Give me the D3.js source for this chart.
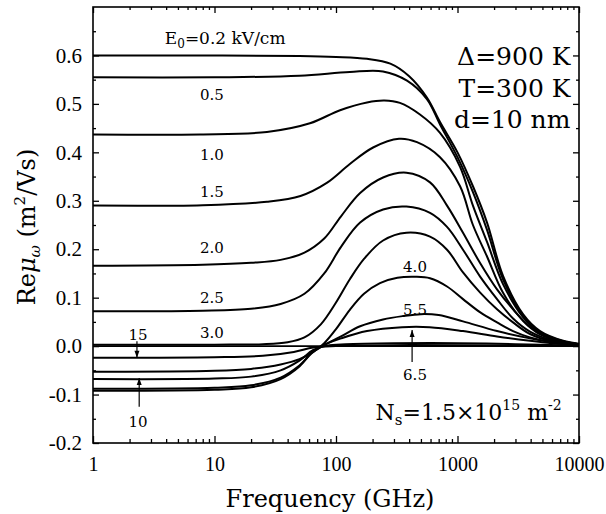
<!DOCTYPE html>
<html>
<head>
<meta charset="utf-8">
<script src="https://cdn.jsdelivr.net/npm/d3@7"></script>
<style>
  body { margin: 0; background: #fff; }
  svg text { font-family: "DejaVu Serif", "Liberation Serif", serif; fill: #000; }
  svg .tick text { font-family: "Liberation Serif", "DejaVu Serif", serif; }
</style>
</head>
<body>
<div id="wrapper"></div>
<script>
// field strengths (kV/cm) and the Re(mu) curves: [frequency GHz, value m^2/Vs]
const fieldLabels = ["0.2", "0.5", "1.0", "1.5", "2.0", "2.5", "3.0", "4.0", "5.5", "6.5", "10", "15"];

const curveE02 = [[1,0.600],[10,0.600],[50,0.599],[100,0.597],[180,0.593],[280,0.583],[400,0.557],[560,0.513],[720,0.462],[1000,0.400],[1340,0.330],[1750,0.255],[2370,0.145],[3460,0.066],[4780,0.031],[7400,0.011],[10000,0.005]];
const curveE05 = [[1,0.555],[10,0.555],[50,0.558],[130,0.566],[244,0.567],[384,0.548],[560,0.510],[720,0.457],[1000,0.390],[1340,0.318],[1750,0.240],[2370,0.138],[3460,0.063],[4780,0.029],[7400,0.010],[10000,0.004]];
const curveE10 = [[1,0.437],[7.6,0.437],[27,0.442],[61,0.460],[108,0.487],[180,0.503],[250,0.507],[336,0.502],[491,0.478],[718,0.440],[1050,0.370],[1340,0.290],[1750,0.215],[2370,0.128],[3460,0.060],[4780,0.027],[7400,0.009],[10000,0.004]];
const curveE15 = [[1,0.290],[8,0.291],[27,0.298],[51,0.310],[84,0.337],[130,0.376],[202,0.410],[330,0.428],[464,0.421],[718,0.390],[1050,0.330],[1340,0.250],[1750,0.185],[2370,0.110],[3460,0.052],[4780,0.024],[7400,0.008],[10000,0.003]];
const curveE20 = [[1,0.166],[8,0.168],[20,0.172],[35,0.178],[55,0.193],[80,0.222],[110,0.268],[158,0.316],[244,0.348],[380,0.358],[594,0.338],[820,0.290],[1110,0.234],[1530,0.172],[2115,0.117],[2865,0.076],[3950,0.040],[6000,0.015],[10000,0.004]];
const curveE25 = [[1,0.072],[8,0.073],[20,0.077],[35,0.087],[55,0.108],[80,0.150],[110,0.205],[158,0.255],[244,0.282],[380,0.288],[594,0.275],[820,0.246],[1110,0.199],[1530,0.144],[2115,0.097],[2865,0.057],[3950,0.030],[6000,0.012],[10000,0.004]];
const curveE30 = [[1,0.003],[10,0.003],[25,0.004],[40,0.008],[55,0.018],[75,0.045],[100,0.090],[130,0.138],[170,0.180],[244,0.218],[380,0.234],[594,0.226],[820,0.199],[1110,0.152],[1530,0.111],[2115,0.076],[2865,0.049],[3950,0.025],[6000,0.010],[10000,0.003]];
const curveE40 = [[1,-0.053],[10,-0.051],[20,-0.047],[35,-0.038],[50,-0.027],[65,-0.012],[80,0.006],[100,0.035],[130,0.075],[170,0.108],[230,0.130],[320,0.141],[450,0.143],[594,0.140],[820,0.123],[1110,0.097],[1530,0.070],[2115,0.049],[2865,0.031],[3950,0.018],[6000,0.008],[10000,0.002]];
const curveE55 = [[1,-0.088],[10,-0.086],[20,-0.081],[35,-0.065],[50,-0.040],[65,-0.012],[84,0.005],[110,0.020],[158,0.041],[244,0.055],[356,0.062],[500,0.066],[700,0.064],[1110,0.051],[2115,0.031],[3950,0.016],[6000,0.008],[10000,0.002]];
const curveE65 = [[1,-0.092],[10,-0.090],[20,-0.085],[35,-0.068],[50,-0.042],[65,-0.010],[84,0.005],[110,0.016],[180,0.031],[350,0.039],[590,0.039],[1110,0.031],[2115,0.020],[3950,0.011],[6000,0.006],[10000,0.002]];
const curveE100 = [[1,-0.068],[10,-0.067],[20,-0.063],[35,-0.050],[50,-0.030],[65,-0.008],[84,0.001],[120,0.004],[300,0.006],[1000,0.006],[3000,0.004],[10000,0.001]];
const curveE150 = [[1,-0.024],[10,-0.023],[25,-0.020],[45,-0.012],[65,-0.003],[100,0.000],[300,0.002],[1000,0.002],[10000,0.000]];

const xTickValues = [1, 10, 100, 1000, 10000];
const yTickValues = [-0.2, -0.1, 0.0, 0.1, 0.2, 0.3, 0.4, 0.5, 0.6];

const drawChart = () => {
  const curves = [curveE02, curveE05, curveE10, curveE15, curveE20, curveE25,
                  curveE30, curveE40, curveE55, curveE65, curveE100, curveE150];

  let dimensions = {
    width: 606,
    height: 514,
    margin: { top: 7, right: 27, bottom: 71, left: 93 }
  };
  dimensions.boundedWidth = dimensions.width - dimensions.margin.left - dimensions.margin.right;
  dimensions.boundedHeight = dimensions.height - dimensions.margin.top - dimensions.margin.bottom;

  const svg = d3.select("#wrapper")
    .append("svg")
    .attr("width", dimensions.width)
    .attr("height", dimensions.height);

  const bounds = svg.append("g")
    .attr("transform", `translate(${dimensions.margin.left},${dimensions.margin.top})`);

  // scales
  const xScale = d3.scaleLog()
    .domain([1, 10000])
    .range([0, dimensions.boundedWidth]);

  const yScale = d3.scaleLinear()
    .domain([-0.2, 0.7])
    .range([dimensions.boundedHeight, 0]);

  // minor ticks
  const xMinor = [];
  [1, 10, 100, 1000].forEach(dec => { for (let k = 2; k <= 9; k++) xMinor.push(dec * k); });
  const yMinor = d3.range(-0.15, 0.7, 0.1).map(v => +v.toFixed(2));

  const tidy = g => {
    g.select(".domain").remove();
    g.selectAll("line").attr("stroke", "#000").attr("stroke-width", 1.3);
    g.attr("font-family", null).attr("font-size", null);
  };

  bounds.append("g")
    .attr("transform", `translate(0,${dimensions.boundedHeight})`)
    .call(d3.axisBottom(xScale).tickValues(xTickValues).tickSize(-7).tickPadding(14).tickFormat(d => d))
    .call(tidy)
    .selectAll("text").style("font-size", "20px");

  bounds.append("g")
    .attr("transform", `translate(0,${dimensions.boundedHeight})`)
    .call(d3.axisBottom(xScale).tickValues(xMinor).tickSize(-4).tickFormat(""))
    .call(tidy);

  bounds.append("g")
    .call(d3.axisTop(xScale).tickValues(xTickValues).tickSize(-6).tickFormat(""))
    .call(tidy);
  bounds.append("g")
    .call(d3.axisTop(xScale).tickValues(xMinor).tickSize(-3).tickFormat(""))
    .call(tidy);

  bounds.append("g")
    .call(d3.axisLeft(yScale).tickValues(yTickValues).tickSize(-6).tickPadding(11).tickFormat(d => d.toFixed(1)))
    .call(tidy)
    .selectAll("text").style("font-size", "21px");
  bounds.append("g")
    .call(d3.axisLeft(yScale).tickValues(yMinor).tickSize(-3).tickFormat(""))
    .call(tidy);

  bounds.append("g")
    .attr("transform", `translate(${dimensions.boundedWidth},0)`)
    .call(d3.axisRight(yScale).tickValues(yTickValues).tickSize(-6).tickFormat(""))
    .call(tidy);
  bounds.append("g")
    .attr("transform", `translate(${dimensions.boundedWidth},0)`)
    .call(d3.axisRight(yScale).tickValues(yMinor).tickSize(-3).tickFormat(""))
    .call(tidy);

  // zero line
  bounds.append("line")
    .attr("x1", xScale(1)).attr("x2", xScale(10000))
    .attr("y1", yScale(0)).attr("y2", yScale(0))
    .attr("stroke", "#000").attr("stroke-width", 1.6);

  // curves
  const lineGenerator = d3.line()
    .x(d => xScale(d[0]))
    .y(d => yScale(d[1]))
    .curve(d3.curveCatmullRom.alpha(0.5));

  bounds.append("g")
    .selectAll("path")
    .data(curves)
    .join("path")
    .attr("d", lineGenerator)
    .attr("fill", "none")
    .attr("stroke", "#000")
    .attr("stroke-width", 2);

  // frame
  bounds.append("rect")
    .attr("width", dimensions.boundedWidth)
    .attr("height", dimensions.boundedHeight)
    .attr("fill", "none")
    .attr("stroke", "#000")
    .attr("stroke-width", 1.6);

  // curve labels
  const smallLabel = (txt, f, v, anchor) => bounds.append("text")
    .attr("x", xScale(f)).attr("y", yScale(v))
    .attr("text-anchor", anchor || "start")
    .style("font-size", "15px")
    .text(txt);

  const e0 = bounds.append("text")
    .attr("x", xScale(3.9)).attr("y", yScale(0.624))
    .style("font-size", "17px");
  e0.append("tspan").text("E");
  e0.append("tspan").attr("dy", 4).style("font-size", "12px").text("0");
  e0.append("tspan").attr("dy", -4).text("=" + fieldLabels[0] + " kV/cm");

  smallLabel(fieldLabels[1], 7.6, 0.508);
  smallLabel(fieldLabels[2], 7.6, 0.384);
  smallLabel(fieldLabels[3], 7.6, 0.307);
  smallLabel(fieldLabels[4], 7.6, 0.192);
  smallLabel(fieldLabels[5], 7.6, 0.089);
  smallLabel(fieldLabels[6], 7.6, 0.017);
  smallLabel(fieldLabels[7], 447, 0.153, "middle");
  smallLabel(fieldLabels[8], 447, 0.064, "middle");
  smallLabel(fieldLabels[9], 447, -0.070, "middle");
  smallLabel(fieldLabels[11], 2.35, 0.012, "middle");
  smallLabel(fieldLabels[10], 2.35, -0.167, "middle");

  // arrows
  const arrow = (f, vFrom, vTo) => {
    const x = xScale(f), y0 = yScale(vFrom), y1 = yScale(vTo);
    const dir = y1 > y0 ? 1 : -1;
    bounds.append("line")
      .attr("x1", x).attr("x2", x).attr("y1", y0).attr("y2", y1)
      .attr("stroke", "#000").attr("stroke-width", 1.2);
    bounds.append("path")
      .attr("d", `M${x},${y1} L${x - 2.5},${y1 - dir * 7} L${x + 2.5},${y1 - dir * 7} Z`)
      .attr("fill", "#000");
  };
  arrow(2.3, 0.010, -0.024);
  arrow(2.4, -0.125, -0.066);
  arrow(423, -0.033, 0.033);

  // parameter text
  const bigLabel = (f, v) => bounds.append("text")
    .attr("x", xScale(f)).attr("y", yScale(v))
    .attr("text-anchor", "end")
    .style("font-size", "25px");

  bigLabel(8500, 0.580).text("\u0394=900 K");
  bigLabel(8500, 0.514).text("T=300 K");
  bigLabel(8500, 0.450).text("d=10 nm");

  const ns = bounds.append("text")
    .attr("x", xScale(7200)).attr("y", yScale(-0.152))
    .attr("text-anchor", "end")
    .style("font-size", "22px");
  ns.append("tspan").text("N");
  ns.append("tspan").attr("dy", 5).style("font-size", "15px").text("s");
  ns.append("tspan").attr("dy", -5).text("=1.5\u00d710");
  ns.append("tspan").attr("dy", -10).style("font-size", "14px").text("15");
  ns.append("tspan").attr("dy", 10).text(" m");
  ns.append("tspan").attr("dy", -10).style("font-size", "14px").text("-2");

  // axis titles
  svg.append("text")
    .attr("x", dimensions.margin.left + dimensions.boundedWidth / 2 - 6)
    .attr("y", dimensions.height - 7)
    .attr("text-anchor", "middle")
    .style("font-size", "24px")
    .text("Frequency (GHz)");

  const yTitle = svg.append("text")
    .attr("transform", `translate(35,${dimensions.margin.top + dimensions.boundedHeight / 2 + 2}) rotate(-90)`)
    .attr("text-anchor", "middle")
    .style("font-size", "24px");
  yTitle.append("tspan").text("Re");
  yTitle.append("tspan").style("font-style", "italic").text("\u03bc");
  yTitle.append("tspan").attr("dy", 5).style("font-size", "15px").style("font-style", "italic").text("\u03c9");
  yTitle.append("tspan").attr("dy", -5).text(" (m");
  yTitle.append("tspan").attr("dy", -10).style("font-size", "15px").text("2");
  yTitle.append("tspan").attr("dy", 10).text("/Vs)");
};

drawChart();
</script>
</body>
</html>
